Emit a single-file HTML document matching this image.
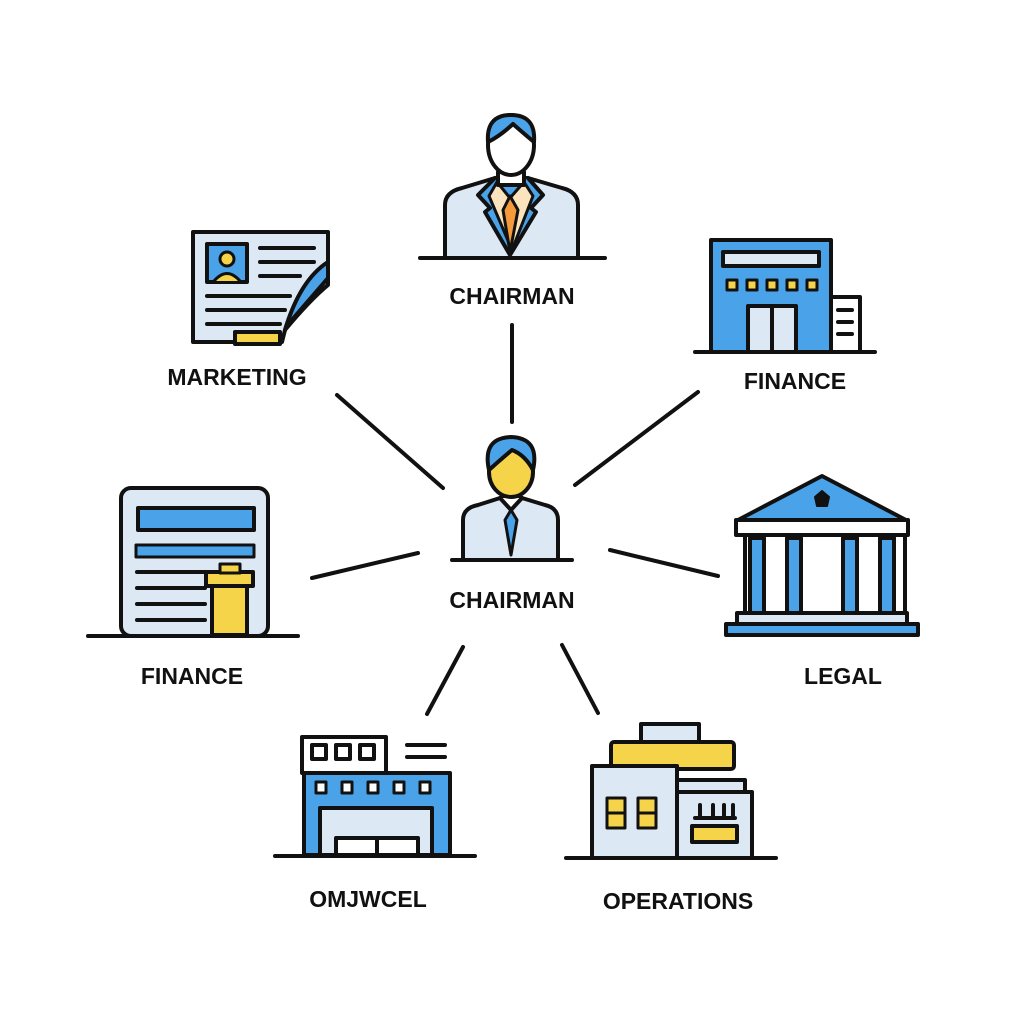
<!DOCTYPE html>
<html><head><style>
html,body{margin:0;padding:0;background:#fff;}
svg{display:block}
text{font-family:"Liberation Sans",sans-serif;font-weight:bold;font-size:23px;fill:#111;text-anchor:middle}
</style></head><body>
<svg width="1024" height="1024" viewBox="0 0 1024 1024" xmlns="http://www.w3.org/2000/svg">
<g stroke="#111" stroke-width="4" stroke-linecap="round" stroke-linejoin="round">
<!-- connectors -->
<line x1="512" y1="325" x2="512" y2="422"/>
<line x1="337" y1="395" x2="443" y2="488"/>
<line x1="575" y1="485" x2="698" y2="392"/>
<line x1="312" y1="578" x2="418" y2="553"/>
<line x1="610" y1="550" x2="718" y2="576"/>
<line x1="463" y1="647" x2="427" y2="714"/>
<line x1="562" y1="645" x2="598" y2="713"/>

<!-- top chairman -->
<path d="M445 258 V205 Q445 192 462 188 L495 178 H528 L562 188 Q578 192 578 205 V258 Z" fill="#dde8f5"/>
<path d="M495 178 L478 195 L490 208 L485 212 L510 255 L536 212 L531 208 L543 195 L528 178" fill="#4aa3e8"/>
<path d="M497 182 L510 198 L524 182 L533 196 L512 250 L489 196 Z" fill="#fbe3bd" stroke-width="3"/>
<path d="M510 196 L503 210 L510 252 L518 210 Z" fill="#f59a3a" stroke-width="3"/>
<path d="M498 172 V185 H524 V172" fill="#fff"/>
<ellipse cx="511" cy="145" rx="23" ry="30" fill="#fff"/>
<path d="M488 142 Q486 115 511 115 Q536 115 534 142 Q522 132 513 124 Q500 136 488 142Z" fill="#4aa3e8"/>
<line x1="420" y1="258" x2="605" y2="258"/>

<!-- marketing doc -->
<path d="M193 232 H328 V262 Q300 280 285 330 L282 342 H193 Z" fill="#dde8f5"/>
<path d="M328 262 Q300 280 285 330 Q310 300 328 285 Z" fill="#4aa3e8"/>
<path d="M328 262 V278 L290 322" fill="none"/>
<rect x="207" y="244" width="40" height="38" fill="#4aa3e8"/>
<circle cx="227" cy="259" r="7" fill="#f5d44a" stroke-width="3"/>
<path d="M214 281 Q227 266 240 281" fill="#f5d44a" stroke-width="3"/>
<line x1="260" y1="248" x2="314" y2="248"/><line x1="260" y1="262" x2="314" y2="262"/>
<line x1="260" y1="276" x2="300" y2="276"/><line x1="207" y1="296" x2="290" y2="296"/>
<line x1="207" y1="310" x2="285" y2="310"/><line x1="207" y1="324" x2="280" y2="324"/>
<rect x="235" y="332" width="45" height="12" fill="#f5d44a"/>

<!-- finance top right -->
<rect x="831" y="297" width="29" height="55" fill="#fff"/>
<line x1="838" y1="310" x2="852" y2="310"/><line x1="838" y1="322" x2="852" y2="322"/><line x1="838" y1="334" x2="852" y2="334"/>
<rect x="711" y="240" width="120" height="112" fill="#4aa3e8"/>
<rect x="723" y="252" width="96" height="14" fill="#dde8f5"/>
<rect x="727" y="280" width="10" height="10" fill="#f5d44a" stroke-width="3"/><rect x="747" y="280" width="10" height="10" fill="#f5d44a" stroke-width="3"/>
<rect x="767" y="280" width="10" height="10" fill="#f5d44a" stroke-width="3"/><rect x="787" y="280" width="10" height="10" fill="#f5d44a" stroke-width="3"/>
<rect x="807" y="280" width="10" height="10" fill="#f5d44a" stroke-width="3"/>
<rect x="748" y="306" width="48" height="46" fill="#dde8f5"/><line x1="772" y1="306" x2="772" y2="352"/>
<line x1="695" y1="352" x2="875" y2="352"/>

<!-- center chairman -->
<path d="M463 560 V520 Q463 508 478 505 L500 498 H522 L545 505 Q558 508 558 520 V560 Z" fill="#dde8f5"/>
<path d="M500 498 L511 510 L522 498" fill="#fff"/>
<path d="M511 510 L505 520 L511 555 L517 520 Z" fill="#4aa3e8" stroke-width="3"/>
<ellipse cx="511" cy="472" rx="22" ry="25" fill="#f5d44a"/>
<path d="M489 470 Q482 438 511 437 Q540 438 533 470 Q525 455 512 450 Q500 460 489 470Z" fill="#4aa3e8"/>
<line x1="452" y1="560" x2="572" y2="560"/>

<!-- finance left -->
<rect x="121" y="488" width="147" height="148" rx="10" fill="#dde8f5"/>
<rect x="138" y="508" width="116" height="22" fill="#4aa3e8"/>
<rect x="136" y="545" width="118" height="12" fill="#4aa3e8" stroke-width="3"/>
<line x1="137" y1="572" x2="220" y2="572"/><line x1="137" y1="588" x2="205" y2="588"/>
<line x1="137" y1="604" x2="205" y2="604"/><line x1="137" y1="620" x2="205" y2="620"/>
<rect x="212" y="585" width="35" height="50" fill="#f5d44a"/>
<rect x="206" y="572" width="47" height="14" fill="#f5d44a"/>
<rect x="220" y="564" width="20" height="9" fill="#f5d44a" stroke-width="3"/>
<line x1="88" y1="636" x2="298" y2="636"/>

<!-- legal -->
<path d="M738 520 L822 476 L906 520 Z" fill="#4aa3e8"/>
<path d="M815 497 L822 491 L829 497 L827 506 H817 Z" fill="#111" stroke-width="2"/>
<rect x="736" y="520" width="172" height="15" fill="#fff"/>
<rect x="745" y="535" width="160" height="78" fill="#fff"/>
<g fill="#4aa3e8">
<rect x="750" y="538" width="14" height="75"/><rect x="787" y="538" width="14" height="75"/>
<rect x="843" y="538" width="14" height="75"/><rect x="880" y="538" width="14" height="75"/>
</g>
<rect x="737" y="613" width="170" height="11" fill="#dde8f5"/>
<rect x="726" y="624" width="192" height="11" fill="#4aa3e8"/>

<!-- bottom left building -->
<rect x="302" y="737" width="84" height="36" fill="#fff"/>
<rect x="312" y="745" width="14" height="14" fill="#fff"/><rect x="336" y="745" width="14" height="14" fill="#fff"/><rect x="360" y="745" width="14" height="14" fill="#fff"/>
<line x1="407" y1="745" x2="445" y2="745"/><line x1="407" y1="757" x2="445" y2="757"/>
<rect x="304" y="773" width="146" height="82" fill="#4aa3e8"/>
<rect x="316" y="782" width="10" height="11" fill="#fff" stroke-width="3"/><rect x="342" y="782" width="10" height="11" fill="#fff" stroke-width="3"/>
<rect x="368" y="782" width="10" height="11" fill="#fff" stroke-width="3"/><rect x="394" y="782" width="10" height="11" fill="#fff" stroke-width="3"/>
<rect x="420" y="782" width="10" height="11" fill="#fff" stroke-width="3"/>
<rect x="320" y="808" width="112" height="47" fill="#dde8f5"/>
<rect x="336" y="838" width="82" height="17" fill="#fff"/><line x1="377" y1="838" x2="377" y2="855"/>
<line x1="275" y1="856" x2="475" y2="856"/>

<!-- operations -->
<rect x="641" y="724" width="58" height="18" fill="#dde8f5"/>
<rect x="611" y="742" width="123" height="27" rx="3" fill="#f5d44a"/>
<rect x="592" y="766" width="85" height="92" fill="#dde8f5"/>
<rect x="677" y="780" width="68" height="12" fill="#dde8f5"/>
<rect x="677" y="792" width="75" height="66" fill="#dde8f5"/>
<rect x="607" y="798" width="18" height="30" fill="#f5d44a" stroke-width="3"/><line x1="607" y1="813" x2="625" y2="813" stroke-width="3"/>
<rect x="638" y="798" width="18" height="30" fill="#f5d44a" stroke-width="3"/><line x1="638" y1="813" x2="656" y2="813" stroke-width="3"/>
<path d="M695 818 H735 M700 805 V818 M713 805 V818 M724 805 V818 M733 805 V818"/>
<rect x="692" y="826" width="45" height="16" fill="#f5d44a"/>
<line x1="566" y1="858" x2="776" y2="858"/>
</g>

<text x="512" y="304">CHAIRMAN</text>
<text x="237" y="385">MARKETING</text>
<text x="795" y="389">FINANCE</text>
<text x="512" y="608">CHAIRMAN</text>
<text x="192" y="684">FINANCE</text>
<text x="843" y="684">LEGAL</text>
<text x="368" y="907">OMJWCEL</text>
<text x="678" y="909">OPERATIONS</text>
</svg>
</body></html>
